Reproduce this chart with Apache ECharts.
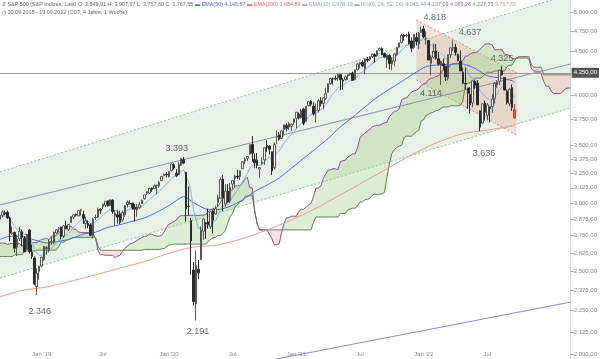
<!DOCTYPE html>
<html><head><meta charset="utf-8">
<script src="https://cdn.jsdelivr.net/npm/echarts@6/dist/echarts.min.js"></script>
<style>html,body{margin:0;padding:0;background:#fff}#c{width:600px;height:359px}</style>
</head><body><div id="c"></div>
<script>
// ---------- DATA ----------
const startDate = [2018, 8, 10];   // 10.09.2018, weekly
const weekCount = 234;             // 211 candles + cloud projection

const open = [2872,2903,2924,2926,2882,2763,2773,2667,2726,2779,2730,2649,2790,2630,2590,2400,2498,
2535,2580,2657,2644,2703,2702,2769,2800,2814,2747,2823,2796,2848,2888,2909,2898,2941,2909,2840,2841,2830,2751,2885,2889,2951,2971,2980,3018,2979,3024,2898,2907,2913,2867,2910,2988,2996,2999,2967,2944,2965,2996,3035,3078,3081,3123,3117,3144,3141,3184,3227,3240,
3217,3271,3323,3248,3235,3318,3369,3257,2975,2863,2508,2291,2514,2578,2782,2846,2854,2815,2937,2913,3005,3038,3199,2994,3094,3018,3156,3205,3224,3219,3289,3356,3381,3418,3509,3370,3363,3285,3334,3367,3500,3493,3441,3296,3583,3600,3566,3653,3694,3675,3684,3723,
3764,3803,3768,3855,3731,3892,3939,3886,3842,3844,3942,3916,3969,4034,4128,4183,4185,4192,4228,4169,4170,4216,4229,4248,4173,4284,4351,4372,4296,4409,4407,4437,4462,4450,4514,4535,4474,4402,4450,4348,4385,4463,4553,4610,4702,4689,4712,4628,4548,4669,4588,4733,
4778,4656,4632,4357,4431,4505,4412,4332,4354,4327,4188,4462,4541,4548,4462,4385,4255,4130,4081,4014,3920,4151,4135,3839,3715,3920,3792,3880,3883,3966,4112,4155,4270,4195,4041,3910,4084,3849.91];
const high = [2908,2941,2940,2940,2894,2817,2779,2756,2815,2795,2747,2760,2800,2685,2601,2520,2538,
2598,2675,2673,2718,2738,2778,2796,2813,2816,2830,2861,2836,2893,2910,2917,2940,2954,2939,2892,2864,2841,2884,2910,2964,2959,2996,3017,3019,3028,3029,2945,2943,2939,2940,2985,3021,3022,3002,2993,2993,3008,3027,3067,3097,3121,3127,3154,3150,3183,3226,3247,3259,
3267,3330,3338,3285,3347,3385,3393,3260,3136,2882,2562,2641,2576,2818,2880,2846,2955,2934,2945,2980,3068,3212,3233,3155,3155,3165,3184,3238,3280,3272,3352,3387,3399,3509,3588,3425,3429,3302,3393,3482,3550,3502,3441,3529,3645,3628,3644,3699,3712,3726,3711,3760,
3827,3823,3860,3870,3886,3935,3950,3929,3915,3960,3983,3978,4083,4130,4191,4195,4219,4238,4236,4188,4219,4234,4249,4262,4287,4356,4372,4393,4415,4429,4442,4470,4480,4513,4546,4549,4487,4465,4465,4429,4475,4559,4608,4718,4714,4718,4744,4672,4713,4731,4740,4808,
4818,4749,4632,4453,4595,4590,4490,4362,4416,4327,4465,4546,4637,4593,4475,4513,4309,4307,4081,4090,4158,4168,4169,3839,3914,3945,3918,3880,4013,4140,4167,4280,4325,4204,4062,4076,4119,3907.07];
const low = [2868,2886,2903,2874,2710,2755,2628,2603,2709,2671,2631,2649,2621,2583,2408,2346,2443,
2525,2570,2612,2631,2681,2687,2760,2775,2722,2732,2800,2785,2848,2873,2893,2897,2900,2836,2801,2805,2750,2729,2868,2883,2914,2953,2966,2974,2977,2914,2822,2840,2834,2853,2891,2964,2990,2946,2856,2892,2952,2992,3027,3066,3075,3091,3115,3070,3127,3182,3223,3212,
3214,3264,3280,3214,3235,3315,3328,2855,2901,2478,2281,2191,2447,2578,2719,2727,2802,2798,2767,2909,2969,3038,2936,2966,3004,3001,3116,3128,3199,3190,3285,3328,3356,3418,3349,3293,3292,3209,3324,3324,3440,3415,3233,3280,3511,3543,3560,3594,3633,3648,3636,3702,
3663,3750,3760,3694,3726,3886,3885,3789,3723,3821,3884,3853,3954,4034,4120,4118,4164,4157,4057,4062,4167,4168,4215,4165,4166,4278,4300,4321,4233,4372,4385,4423,4367,4436,4508,4456,4427,4306,4289,4279,4324,4447,4546,4596,4631,4672,4585,4495,4531,4572,4531,4733,
4662,4582,4395,4222,4414,4401,4335,4114,4279,4157,4162,4424,4503,4450,4381,4269,4122,4062,3859,3810,3876,4073,3900,3636,3705,3740,3742,3721,3819,3913,4079,4112,4218,4057,3906,3887,3838,3757.60];
const close = [2904,2930,2914,2885,2767,2768,2659,2723,2781,2736,2633,2760,2633,2600,2417,2486,2532,
2596,2671,2665,2707,2708,2776,2793,2804,2743,2822,2801,2834,2893,2907,2905,2940,2946,2881,2860,2826,2752,2873,2887,2950,2942,2990,3014,2977,3026,2932,2919,2889,2847,2926,2979,3007,2992,2962,2952,2970,2986,3023,3067,3093,3120,3110,3141,3146,3169,3221,3240,3235,
3265,3330,3295,3226,3328,3380,3338,2954,2972,2711,2305,2541,2489,2790,2875,2837,2831,2930,2864,2955,3044,3194,3041,3098,3009,3130,3185,3225,3216,3271,3351,3373,3397,3508,3427,3341,3319,3298,3348,3477,3483,3465,3270,3509,3585,3558,3638,3699,3663,3709,3703,3756,
3825,3768,3841,3714,3886,3934,3907,3811,3842,3943,3913,3975,4020,4129,4185,4180,4181,4233,4174,4156,4204,4230,4247,4166,4281,4352,4370,4327,4411,4395,4437,4468,4442,4509,4535,4459,4433,4455,4357,4391,4471,4545,4605,4697,4683,4698,4595,4538,4712,4621,4726,4766,
4677,4663,4398,4432,4500,4418,4349,4385,4329,4204,4463,4543,4546,4488,4392,4272,4132,4123,4024,3901,4158,4109,3901,3675,3912,3825,3899,3863,3962,4130,4145,4280,4228,4058,3924,4067,3873,3767.55];

const ema10 = [2884,2892,2896,2894,2871,2852,2817,2800,2797,2786,2758,2758,2735,2710,2657,2626,2609,2607,2619,2627,
2642,2654,2676,2697,2716,2721,2739,2750,2765,2788,2810,2827,2848,2866,2869,2867,2860,2840,2846,2853,
2871,2884,2903,2923,2933,2950,2947,2942,2932,2917,2919,2930,2944,2953,2955,2955,2958,2963,2974,2991,
3010,3030,3045,3062,3077,3094,3117,3139,3156,3176,3204,3221,3222,3241,3266,3279,3220,3175,3091,2948,
2874,2804,2801,2814,2818,2820,2840,2844,2864,2897,2951,2967,2991,2994,3019,3049,3081,3106,3136,3175,
3211,3245,3293,3317,3321,3321,3317,3323,3351,3375,3391,3369,3394,3429,3452,3486,3525,3550,3579,3602,
3630,3665,3684,3713,3713,3744,3779,3802,3804,3811,3835,3849,3872,3899,3941,3985,4020,4049,4082,4099,
4109,4126,4145,4164,4164,4185,4215,4243,4258,4286,4306,4330,4355,4371,4396,4421,4428,4429,4434,4420,
4415,4425,4447,4476,4516,4546,4574,4578,4571,4597,4601,4624,4650,4655,4656,4609,4577,4563,4537,4503,
4482,4454,4409,4419,4442,4461,4466,4453,4420,4368,4323,4269,4202,4194,4179,4128,4046,4022,3986,3970,
3951,3953,3985,4014,4062,4092,4086,4057,4059,4025,3978.19];
const ema50 = [[0,2722],[4,2745],[9,2743],[14,2719],[19,2696],[24,2707],[29,2727],[34,2761],[39,2775],[44,2811],[49,2831],[54,2857],[59,2883],[64,2926],[69,2980],[75,3052],[79,3004],[84,2953],[89,2948],[94,2974],[99,3024],[104,3094],[109,3147],[114,3207],[119,3293],[124,3381],[129,3471],[134,3566],[139,3679],[144,3774],[149,3878],[154,3982],[159,4066],[164,4152],[169,4241],[174,4322],[179,4340],[184,4348],[189,4351],[194,4299],[199,4216],[204,4191],[209,4162],[210,4146.67]];
const ema200 = [[0,2335],[9,2375],[19,2397],[29,2434],[39,2476],[49,2521],[59,2565],[69,2624],[79,2667],[89,2681],[99,2728],[109,2792],[119,2867],[129,2958],[139,3066],[149,3181],[159,3301],[169,3424],[179,3532],[189,3612],[199,3645],[209,3684],[210,3684.89]];

// Ichimoku cloud (9,26,52,26), projected 26 weeks
const spanA = [2695,2695,2695,2686,2691,2691,2691,2691,2691,2676,2676,2676,2695,2698,2698,2698,2713,2722,2725,2732,2719,2747,2747,2750,2771,2789,
2795,2809,2810,2820,2797,2797,2777,2772,2772,2772,
2772,2772,2761,2731,2644,2613,2613,2609,2609,2609,
2609,2593,2603,2608,2636,2658,2672,2690,2695,2704,
2714,2726,2737,2744,2747,2760,2760,2751,2746,2746,
2751,2776,2812,2834,2845,2855,2867,2892,2901,2901,
2901,2903,2903,2903,2903,2901,2904,2904,2910,2930,
2945,2957,2960,2974,3006,3036,3067,3086,3102,3107,
3138,3142,3142,3164,3197,3213,3124,3124,2936,2837,
2792,2792,2792,2792,2759,2728,2683,2683,2689,2775,
2844,2884,2886,2896,2896,2896,2933,2950,2950,2968,
2985,2998,3053,3121,3124,3140,3204,3241,3277,3279,
3289,3289,3279,3352,3359,3365,3392,3406,3422,3422,
3479,3574,3597,3618,3636,3654,3679,3687,3694,3694,
3706,3718,3724,3781,3805,3835,3837,3861,3953,3969,
3973,4006,4036,4048,4055,4074,4109,4124,4136,4173,
4187,4194,4208,4213,4246,4287,4296,4296,4340,4356,
4359,4359,4364,4389,4444,4445,4471,4484,4484,4495,
4526,4555,4587,4592,4592,4578,4520,4520,4520,4520,
4466,4466,4449,4420,4411,4421,4421,4421,4421,4423,
4408,4294,4269,4269,4258,4238,4151,4100,4100,4048,
4020,4020,4020,4020,4048,4076,4080,4080];
const spanB = [2600,2600,2600,2600,2600,2600,2613,2613,2613,2613,2639,2639,2639,2639,2639,
2645,2645,2645,2645,2645,2645,2645,2645,2645,2672,2702,2703,2716,2720,2730,
2737,2737,2737,2737,2737,2737,2737,2737,2737,2737,2675,
2644,2644,2644,2644,2644,2644,2644,2644,2644,2644,2644,2644,2644,2644,2644,2644,2644,2644,
2650,2650,2650,2650,2650,2650,2650,2655,2655,
2671,2682,2683,2687,2688,2688,2688,2688,2688,2688,2688,2688,2688,2688,2688,2688,2688,
2707,2722,2734,2737,2750,2750,2765,2786,2845,2892,2919,2971,2985,3010,3017,3054,3058,3058,3061,
2936,2837,2792,2792,2792,2792,2792,2792,2792,2792,2792,2792,2792,2792,2792,2792,2792,2792,2792,2792,2792,2792,2792,2792,
2850,2890,2890,2890,2890,2890,2890,2890,2890,2890,2890,2918,2918,2918,
2945,2952,2959,2959,2976,3009,3009,3026,3031,3039,3063,3071,3071,3071,3076,3087,
3215,3331,3425,3459,3481,3493,3503,3574,3587,3587,3587,3608,3632,3644,3736,3750,3792,3803,3819,3826,3840,3845,3861,3878,3879,3879,3891,3891,3891,3891,3896,3944,
4115,4131,4139,4169,4189,4190,4190,4204,4236,4256,4256,4256,4271,4271,4271,4271,4271,4320,4336,4336,4386,4426,
4438,4438,4438,4438,4438,4339,4314,4314,4314,4314,
4227,4227,4227,4227,4227,4227,4227,4227,4227,4227,4227,4227];

// trend constructions: [week index, price]
const channelUpper = [[0, 3260], [233, 5247]];
const channelLower = [[0, 2455], [233, 3868]];
const wedgeUpper = [[170, 4894], [211, 4248]];
const wedgeLower = [[170, 4169], [211, 3598]];
const trendGray = [[0, 2985], [233, 4351]];
const trendPurple = [[106, 1960], [233, 2302]];
const levelLine = 4250;

const yTicks = [2000,2125,2250,2375,2500,2625,2750,2875,3000,3125,3250,3375,3500,3750,4000,4250,4500,4750,5000];
const highMarks = [[173, 4818], [185, 4637], [205, 4325], [75, 3393]];
const lowMarks = [[15, 2346], [80, 2191], [180, 4114], [196, 3636]];
const ikhLast = [4041.44, 4137.09, 4089.26, 4227.75, 3767.55];

// ---------- helpers ----------
function de(v, d) {
  const s = Number(v).toFixed(d);
  const parts = s.split('.');
  const i = parts[0].replace(/\B(?=(\d{3})+(?!\d))/g, '.');
  return parts[1] ? i + ',' + parts[1] : i;
}
const FONT = '"Liberation Sans", Arial, sans-serif';
const categories = [];
const catDates = [];
for (let k = 0; k < weekCount; k++) {
  const d = new Date(Date.UTC(startDate[0], startDate[1], startDate[2] + 7 * k));
  catDates.push(d);
  categories.push(d.toISOString().slice(0, 10));
}
const lastIdx = close.length - 1;
function isLabelWeek(idx) {
  const d = catDates[idx];
  return idx <= lastIdx && (d.getUTCMonth() === 0 || d.getUTCMonth() === 6) && d.getUTCDate() <= 7;
}

const candleData = open.map((o, i) => {
  const v = [o, close[i], low[i], high[i]];
  if (i === lastIdx) return { value: v, itemStyle: { color: '#e8463c', color0: '#e8463c', borderColor: '#c93a31', borderColor0: '#c93a31' } };
  return v;
});

// cloud runs
const N = spanA.length;
const sg = i => (spanA[i] >= spanB[i] ? 1 : -1);
const runs = [];
let rs = 0;
for (let i = 1; i < N; i++) { if (sg(i) !== sg(rs)) { runs.push([rs, i - 1, sg(rs)]); rs = i; } }
runs.push([rs, N - 1, sg(rs)]);

function polyGroup(params, api, up, lo, fill, stroke) {
  const p1 = api.coord(up[0]), p2 = api.coord(up[1]), p3 = api.coord(lo[1]), p4 = api.coord(lo[0]);
  const cs = params.coordSys;
  return {
    type: 'group',
    clipPath: { type: 'rect', shape: { x: cs.x, y: cs.y, width: cs.width, height: cs.height } },
    children: [
      { type: 'polygon', shape: { points: [p1, p2, p3, p4] }, style: { fill: fill } },
      { type: 'line', shape: { x1: p1[0], y1: p1[1], x2: p2[0], y2: p2[1] }, style: { stroke: stroke, lineWidth: 1, lineDash: [2, 2] } },
      { type: 'line', shape: { x1: p4[0], y1: p4[1], x2: p3[0], y2: p3[1] }, style: { stroke: stroke, lineWidth: 1, lineDash: [2, 2] } }
    ]
  };
}

const peakOffsets = [[11, 0], [17, 0], [0, 0], [-7, 0]];
const lowOffsets = [[3, 9], [2, 3], [-10, 1], [4, 14]];
const HS = 5.4;

const chart = echarts.init(document.getElementById('c'), null, { renderer: 'canvas' });
chart.setOption({
  animation: false,
  backgroundColor: '#ffffff',
  textStyle: { fontFamily: FONT },
  grid: { left: 0, right: 28, top: 0, bottom: 0 },
  xAxis: {
    type: 'category', data: categories, boundaryGap: false,
    axisLine: { show: false }, axisTick: { show: false }, splitLine: { show: false },
    axisLabel: {
      inside: true, margin: 2, fontSize: 6, color: '#888', fontFamily: FONT,
      interval: (idx) => isLabelWeek(idx),
      formatter: (val, idx) => {
        const d = catDates[idx];
        return d.getUTCMonth() === 0 ? "Jan '" + String(d.getUTCFullYear()).slice(2) : 'Jul';
      }
    }
  },
  yAxis: {
    type: 'log', logBase: 10, position: 'right', min: 1977, max: 5163,
    axisLine: { show: true, lineStyle: { color: '#dcdcdc', width: 1 } },
    axisTick: { show: true, length: 3, lineStyle: { color: '#aaa' }, customValues: yTicks },
    splitLine: { show: false },
    axisLabel: { fontSize: 6, color: '#888', margin: 3, fontFamily: FONT, customValues: yTicks, formatter: v => de(v, 2) }
  },
  graphic: [
    {
      type: 'text', left: 2, top: 2, z: 100,
      style: {
        text: '{ic|⇵} S&P 500 (S&P Indizes, Last) O: ' + de(open[lastIdx], 2) + ' H: ' + de(high[lastIdx], 2) + ' L: ' + de(low[lastIdx], 2) + ' C: ' + de(close[lastIdx], 2) +
          ' {b|▬ EMA(50) ' + de(ema50[ema50.length - 1][1], 2) + '} {r|▬ EMA(200) ' + de(ema200[ema200.length - 1][1], 2) + '} {lb|▬ EMA(10) ' + de(ema10[lastIdx], 2) + '} {ik|▬ IKH(9, 26, 52, 26)} ' +
          '{k1|' + de(ikhLast[0], 2) + '} {k2|' + de(ikhLast[1], 2) + '} {k3|' + de(ikhLast[2], 2) + '} {k4|' + de(ikhLast[3], 2) + '} {k5|' + de(ikhLast[4], 2) + '}',
        fontSize: HS, fill: '#666', fontFamily: FONT,
        rich: {
          ic: { fontSize: HS, fill: '#777' },
          b: { fontSize: HS, fill: '#4a6fdc' },
          r: { fontSize: HS, fill: '#e46a62' },
          lb: { fontSize: HS, fill: '#79a6e0' },
          ik: { fontSize: HS, fill: '#8c9ad6' },
          k1: { fontSize: HS, fill: '#7e96d0' },
          k2: { fontSize: HS, fill: '#8a7070' },
          k3: { fontSize: HS, fill: '#9a6aa0' },
          k4: { fontSize: HS, fill: '#7a9a70' },
          k5: { fontSize: HS, fill: '#d0a060' }
        }
      }
    },
    {
      type: 'text', left: 2, top: 10, z: 100,
      style: { text: '◷ 10.09.2018 - 19.09.2022 (CDT, 4 Jahre, 1 Woche)', fontSize: HS, fill: '#666', fontFamily: FONT }
    }
  ],
  series: [
    {
      type: 'custom', name: 'channel', z: 1, silent: true, data: [[0, 3000]],
      renderItem: (params, api) => polyGroup(params, api, channelUpper, channelLower, 'rgba(185,212,180,0.32)', '#8cc48a')
    },
    {
      type: 'custom', name: 'wedge', z: 2, silent: true, data: [[170, 4500]],
      renderItem: (params, api) => polyGroup(params, api, wedgeUpper, wedgeLower, 'rgba(222,160,140,0.30)', '#e07a72')
    },
    {
      type: 'custom', name: 'cloud', z: 3, silent: true,
      data: runs.map(r => [r[0], spanA[r[0]]]),
      renderItem: (params, api) => {
        const r = runs[params.dataIndex];
        const s = r[0], e = r[1];
        const cross = (i) => {
          const a0 = api.coord([i, spanA[i]]), b0 = api.coord([i, spanB[i]]);
          const a1 = api.coord([i + 1, spanA[i + 1]]), b1 = api.coord([i + 1, spanB[i + 1]]);
          const d0 = a0[1] - b0[1], d1 = a1[1] - b1[1];
          const f = (d0 - d1) === 0 ? 0.5 : d0 / (d0 - d1);
          return [a0[0] + f * (a1[0] - a0[0]), a0[1] + f * (a1[1] - a0[1])];
        };
        const pts = [];
        if (s > 0) pts.push(cross(s - 1));
        for (let i = s; i <= e; i++) pts.push(api.coord([i, spanA[i]]));
        if (e < N - 1) pts.push(cross(e));
        for (let i = e; i >= s; i--) pts.push(api.coord([i, spanB[i]]));
        const cs = params.coordSys;
        return {
          type: 'polygon',
          clipPath: { type: 'rect', shape: { x: cs.x, y: cs.y, width: cs.width, height: cs.height } },
          shape: { points: pts },
          style: { fill: r[2] > 0 ? 'rgba(165,210,145,0.38)' : 'rgba(238,170,170,0.35)' }
        };
      }
    },
    { type: 'line', name: 'SpanA', z: 4, silent: true, data: spanA, showSymbol: false, lineStyle: { color: '#8e4f8e', width: 1 } },
    { type: 'line', name: 'SpanB', z: 4, silent: true, data: spanB, showSymbol: false, lineStyle: { color: '#5f7f50', width: 1 } },
    { type: 'line', name: 'trendGray', z: 4, silent: true, data: trendGray, showSymbol: false, lineStyle: { color: '#8d90a8', width: 1 } },
    { type: 'line', name: 'trendPurple', z: 4, silent: true, data: trendPurple, showSymbol: false, lineStyle: { color: '#8a88c8', width: 1 } },
    { type: 'line', name: 'EMA200', z: 5, silent: true, data: ema200, showSymbol: false, smooth: 0.2, lineStyle: { color: '#f09a90', width: 1 } },
    { type: 'line', name: 'EMA50', z: 5, silent: true, data: ema50, showSymbol: false, smooth: 0.2, lineStyle: { color: '#4a6fdc', width: 1 } },
    { type: 'line', name: 'EMA10', z: 5, silent: true, data: ema10, showSymbol: false, lineStyle: { color: '#86b3ea', width: 1 } },
    {
      type: 'candlestick', name: 'S&P 500', z: 6, silent: true, data: candleData, barWidth: 2,
      itemStyle: { color: '#ffffff', color0: '#2a2a2a', borderColor: '#555', borderColor0: '#2a2a2a', borderWidth: 1 }
    },
    {
      type: 'line', name: 'level', z: 7, silent: true, data: [],
      markLine: {
        silent: true, symbol: 'none', animation: false,
        lineStyle: { color: '#9a9a9a', width: 1, type: 'solid' },
        label: { position: 'end', distance: 1, formatter: de(levelLine, 2), backgroundColor: '#555', color: '#fff', fontSize: 6, padding: [2, 2], fontFamily: FONT },
        data: [{ yAxis: levelLine }]
      }
    },
    {
      type: 'scatter', name: 'highs', z: 8, silent: true, symbolSize: 1, itemStyle: { color: 'rgba(0,0,0,0)' },
      data: highMarks.map((p, k) => ({ value: p, label: { offset: peakOffsets[k] } })),
      label: { show: true, position: 'top', distance: 3, fontSize: 9, color: '#444', fontFamily: FONT, formatter: p => de(p.value[1], 0) }
    },
    {
      type: 'scatter', name: 'lows', z: 8, silent: true, symbolSize: 1, itemStyle: { color: 'rgba(0,0,0,0)' },
      data: lowMarks.map((p, k) => ({ value: p, label: { offset: lowOffsets[k] } })),
      label: { show: true, position: 'bottom', distance: 3, fontSize: 9, color: '#444', fontFamily: FONT, formatter: p => de(p.value[1], 0) }
    }
  ]
});
</script>
</body></html>
